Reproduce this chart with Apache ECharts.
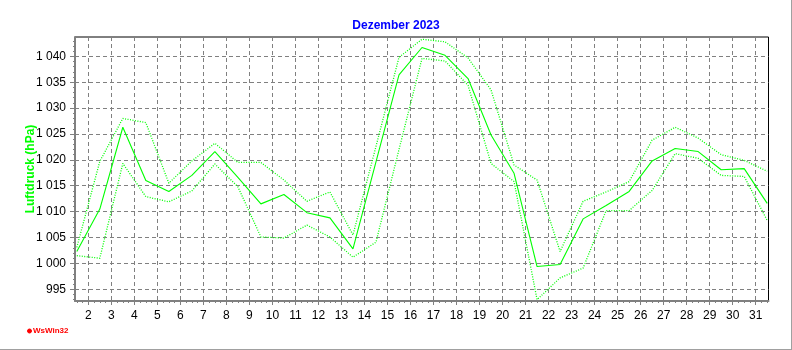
<!DOCTYPE html>
<html><head><meta charset="utf-8">
<script src="https://cdn.jsdelivr.net/npm/echarts@6/dist/echarts.min.js"></script>
<style>html,body{margin:0;padding:0;background:#fff}#c{width:792px;height:350px}</style>
</head><body><div id="c"></div>
<script>
const days = [1,2,3,4,5,6,7,8,9,10,11,12,13,14,15,16,17,18,19,20,21,22,23,24,25,26,27,28,29,30,31];
const meanP = [1002.3,1010.5,1026.3,1016.0,1013.9,1017.0,1021.6,1016.6,1011.5,1013.3,1009.8,1008.8,1002.8,1019.6,1036.4,1041.7,1040.2,1035.7,1024.8,1017.4,999.4,999.8,1008.6,1011.2,1013.9,1019.8,1022.2,1021.6,1018.1,1018.3,1011.6];
const maxP = [1003.1,1019.7,1028.0,1027.2,1015.5,1019.8,1023.2,1019.5,1019.5,1016.1,1012.0,1013.8,1005.5,1022.6,1039.8,1043.3,1042.8,1039.7,1033.5,1019.0,1016.1,1002.3,1012.0,1013.8,1015.8,1023.8,1026.3,1024.2,1021.0,1019.9,1017.8];
const minP = [1001.5,1001.0,1019.3,1012.9,1011.9,1014.0,1019.2,1014.8,1005.1,1004.9,1007.4,1005.1,1001.2,1004.1,1022.0,1039.6,1039.1,1034.4,1019.3,1015.8,993.0,997.2,999.1,1010.2,1010.2,1014.1,1021.2,1020.3,1017.0,1016.8,1008.3];
const xTickLabels = [2,3,4,5,6,7,8,9,10,11,12,13,14,15,16,17,18,19,20,21,22,23,24,25,26,27,28,29,30,31];
const yTickLabels = [995,1000,1005,1010,1015,1020,1025,1030,1035,1040];

const X_MIN = 1.422, X_MAX = 31.556, Y_MIN = 992.74, Y_MAX = 1043.73;
const xMinor = [];
for (let i = Math.ceil(X_MIN * 4); i <= Math.floor(X_MAX * 4); i++) xMinor.push(i / 4);
const yMinor = [];
for (let v = Math.ceil(Y_MIN); v <= Math.floor(Y_MAX); v++) yMinor.push(v);

const pts = arr => arr.map((v, i) => [days[i] + 0.5, v]);
const fmtY = v => String(v).replace(/\B(?=(\d{3})+(?!\d))/g, ' ');
const GREEN = '#00ff00';
const GRAY = '#808080';

const chart = echarts.init(document.getElementById('c'), null, {renderer: 'canvas'});
chart.setOption({
  animation: false,
  backgroundColor: '#ffffff',
  title: {
    text: 'Dezember 2023', left: 'center', top: 15,
    textStyle: {color: '#0000ff', fontSize: 12, fontWeight: 'bold', fontFamily: 'Liberation Sans'}
  },
  grid: {left: 75, right: 23.5, top: 37, bottom: 49, show: true, borderColor: '#000', borderWidth: 1, backgroundColor: 'transparent'},
  xAxis: [{
    type: 'value', min: X_MIN, max: X_MAX,
    axisLine: {show: true, onZero: false, lineStyle: {color: GRAY, width: 2}},
    axisTick: {show: true, customValues: xTickLabels, length: 4, lineStyle: {color: GRAY}},
    axisLabel: {customValues: xTickLabels, margin: 9, color: '#000', fontSize: 12, fontFamily: 'Liberation Sans', showMinLabel: true, showMaxLabel: true},
    splitLine: {show: true, lineStyle: {color: GRAY, type: [4, 3], width: 1}}
  }, {
    type: 'value', min: X_MIN, max: X_MAX, position: 'bottom',
    axisLine: {show: false},
    axisTick: {show: true, customValues: xMinor, length: 2, lineStyle: {color: GRAY}},
    axisLabel: {show: false},
    splitLine: {show: false}
  }],
  yAxis: [{
    type: 'value', min: Y_MIN, max: Y_MAX,
    name: 'Luftdruck (hPa)', nameLocation: 'middle', nameGap: 38, nameRotate: 90, nameMoveOverlap: false,
    nameTextStyle: {color: GREEN, fontSize: 12, fontWeight: 'bold', fontFamily: 'Liberation Sans'},
    axisLine: {show: true, onZero: false, lineStyle: {color: GRAY, width: 2}},
    axisTick: {show: true, customValues: yTickLabels, length: 5, lineStyle: {color: GRAY}},
    axisLabel: {customValues: yTickLabels, margin: 9, color: '#000', fontSize: 12, fontFamily: 'Liberation Sans', formatter: fmtY},
    splitLine: {show: true, lineStyle: {color: GRAY, type: [4, 3], width: 1}}
  }, {
    type: 'value', min: Y_MIN, max: Y_MAX, position: 'left',
    axisLine: {show: false},
    axisTick: {show: true, customValues: yMinor, length: 2, lineStyle: {color: GRAY}},
    axisLabel: {show: false},
    splitLine: {show: false}
  }],
  series: [
    {type: 'line', data: pts(maxP), symbol: 'none', lineStyle: {color: GREEN, width: 1.3, type: [1, 1.5]}},
    {type: 'line', data: pts(meanP), symbol: 'none', lineStyle: {color: GREEN, width: 1.1, type: 'solid'}},
    {type: 'line', data: pts(minP), symbol: 'none', lineStyle: {color: GREEN, width: 1.3, type: [1, 1.5]}}
  ],
  graphic: [
    {type: 'line', shape: {x1: 791.5, y1: 0, x2: 791.5, y2: 350}, style: {stroke: '#a0a0a0', lineWidth: 1}},
    {type: 'line', shape: {x1: 0, y1: 349.5, x2: 792, y2: 349.5}, style: {stroke: '#a0a0a0', lineWidth: 1}},
    {type: 'circle', shape: {cx: 29.5, cy: 331, r: 2}, style: {fill: '#ff0000', stroke: '#ff0000'}},
    {type: 'text', left: 33, top: 327, style: {text: 'WsWin32', fill: '#ff0000', font: 'bold 8px "Liberation Sans"'}}
  ]
});
</script>
</body></html>
